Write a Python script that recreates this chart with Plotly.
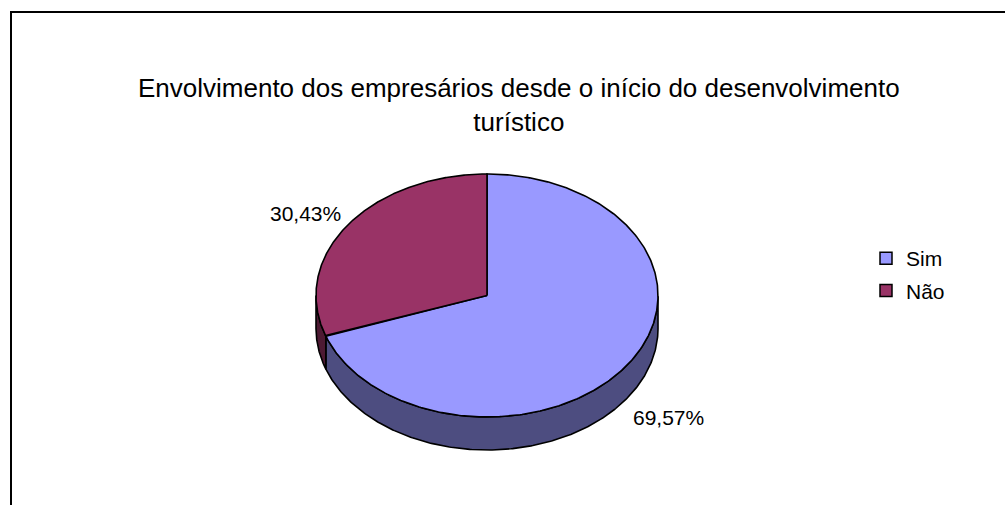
import numpy as np
import plotly.graph_objects as go

# ---- data ----
categories = ["Sim", "Não"]
values = [69.57, 30.43]
top_colors = ["#9999FF", "#993366"]
side_colors = ["#4D4D80", "#4D1A33"]
title_text = "Envolvimento dos empresários desde o início do desenvolvimento<br>turístico"

# ---- geometry (pixel-space styling) ----
W, H = 1005, 505
cx, cy = 487, 295.5
rx, ry = 171, 121.5
depth = 33
FONT = "Arial, 'Liberation Sans', sans-serif"

fig = go.Figure()

total = sum(values)
start = 90.0
ranges = []
for v in values:
    sweep = v / total * 360.0
    ranges.append((start, start - sweep))
    start -= sweep


def ell(t, dy=0.0):
    r = np.radians(t)
    return cx + rx * np.cos(r), cy - ry * np.sin(r) + dy


# side walls (visible where sin(theta) <= 0)
for (a0, a1), col in zip(ranges, side_colors):
    ts = np.linspace(a0, a1, 400)
    vis = np.sin(np.radians(ts)) <= 1e-9
    if not vis.any():
        continue
    tv = ts[vis]
    xt, yt = ell(tv)
    xb, yb = ell(tv[::-1], depth)
    xs = np.concatenate([xt, xb, xt[:1]])
    ys = np.concatenate([yt, yb, yt[:1]])
    fig.add_trace(go.Scatter(x=xs, y=ys, mode="lines", fill="toself",
                             fillcolor=col, line=dict(color="black", width=1.6),
                             hoverinfo="skip", showlegend=False))

# top faces
for (a0, a1), col, name, v in zip(ranges, top_colors, categories, values):
    ts = np.linspace(a0, a1, 400)
    xa, ya = ell(ts)
    xs = np.concatenate([[cx], xa, [cx]])
    ys = np.concatenate([[cy], ya, [cy]])
    fig.add_trace(go.Scatter(x=xs, y=ys, mode="lines", fill="toself",
                             fillcolor=col, line=dict(color="black", width=1.6),
                             name=name, hoverinfo="text",
                             text=f"{name}: {v:.2f}%".replace(".", ","),
                             showlegend=False))

# data labels
for (a0, a1), v in zip(ranges, values):
    m = np.radians((a0 + a1) / 2)
    lx = cx + 1.30 * rx * np.cos(m)
    ly = cy - 1.22 * ry * np.sin(m) + (depth if np.sin(m) < 0 else 0) + 3
    fig.add_annotation(x=lx, y=ly, xref="x", yref="y", showarrow=False,
                       text=f"{v:.2f}%".replace(".", ","),
                       font=dict(family=FONT, size=21, color="black"),
                       xanchor="center", yanchor="middle")

# legend entries
for i, (name, col) in enumerate(zip(categories, top_colors)):
    fig.add_trace(go.Scatter(x=[None], y=[None], mode="markers", name=name,
                             legendgroup=name,
                             marker=dict(symbol="square", size=12, color=col,
                                         line=dict(color="black", width=1.5))))

# title
fig.add_annotation(x=519, y=105, xref="x", yref="y", showarrow=False,
                   text=title_text, align="center",
                   font=dict(family=FONT, size=26, color="black"),
                   xanchor="center", yanchor="middle")

# chart frame
fig.add_shape(type="rect", xref="paper", yref="paper",
              x0=11 / W, y0=-0.02, x1=1.02, y1=1 - 12 / H,
              line=dict(color="black", width=2), fillcolor="rgba(0,0,0,0)")

fig.update_layout(
    width=W, height=H,
    margin=dict(l=0, r=0, t=0, b=0),
    paper_bgcolor="white", plot_bgcolor="white",
    xaxis=dict(range=[0, W], visible=False, fixedrange=True),
    yaxis=dict(range=[H, 0], visible=False, fixedrange=True),
    showlegend=True,
    legend=dict(x=866 / W, y=1 - 238 / H, xanchor="left", yanchor="top",
                font=dict(family=FONT, size=21, color="black"),
                tracegroupgap=2, bgcolor="rgba(0,0,0,0)"),
)

fig.write_html("out.html")
